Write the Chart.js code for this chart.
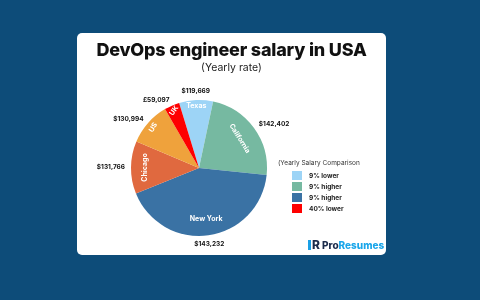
<!DOCTYPE html>
<html>
<head>
<meta charset="utf-8">
<script src="https://cdn.jsdelivr.net/npm/chart.js@4.4.1/dist/chart.umd.min.js"></script>
<style>
  html, body { margin: 0; padding: 0; }
  body { width: 480px; height: 300px; background: #0d4c79; position: relative; overflow: hidden; font-family: Inter, 'Open Sans', sans-serif; }
  #card { position: absolute; left: 77px; top: 33px; width: 309px; height: 222px; background: #fff; border-radius: 5px; }
  #title { position: absolute; left: 0; width: 309px; top: 6px; text-align: center; font-weight: 800; font-size: 18px; color: #111; letter-spacing: -0.2px; }
  #sub { position: absolute; left: 0; width: 309px; top: 28px; text-align: center; font-size: 10.5px; color: #222; }
  #pie { position: absolute; left: 0; top: 0; }
  #legend { position: absolute; left: 201px; top: 126px; font-size: 6.5px; color: #333; }
  #legend .ttl { margin-bottom: 3px; }
  #legend .row { display: flex; align-items: center; height: 11px; margin-left: 14px; font-weight: 700; color: #222; }
  #legend .sw { width: 10px; height: 9px; margin-right: 7px; }
  #logo { position: absolute; left: 231px; top: 206px; font-weight: 800; font-size: 10px; display: flex; align-items: center; }
  #logo .ic { color: #1b2b4b; font-size: 12px; margin-right: 2px; border-left: 3px solid #1aa0e6; padding-left: 1px; line-height: 10px; }
  #logo .p { color: #1b2b4b; }
  #logo .r { color: #1aa6ea; }
</style>
</head>
<body>
<div id="card">
  <canvas id="pie" width="309" height="222"></canvas>
  <div id="title">DevOps engineer salary in USA</div>
  <div id="sub">(Yearly rate)</div>
  <div id="legend"></div>
  <div id="logo"><span class="ic">R</span><span class="p">Pro</span><span class="r">Resumes</span></div>
</div>
<script>
// slices, clockwise from Texas
const cities = ['Texas', 'California', 'New York', 'Chicago', 'US', 'UK'];
const salaries = ['$119,669', '$142,402', '$143,232', '$131,766', '$130,994', '£59,097'];
const shares = [29, 84, 152, 45, 37, 13];
const colors = ['#9dd4f6', '#76b9a1', '#3a72a4', '#e0693f', '#efa23c', '#fe0000'];

// legend
const legendText = ['9% lower', '9% higher', '9% higher', '40% lower'];
const legendColors = ['#9dd4f6', '#76b9a1', '#3a72a4', '#fe0000'];

// where the white name sits inside each slice (fraction of radius) and its tilt
const innerPos = [0.92, 0.74, 0.75, 0.79, 0.9, 0.92];
const innerRot = [0, 58, 0, -90, -58, -55];

const lg = document.getElementById('legend');
lg.innerHTML = '<div class="ttl">(Yearly Salary Comparison</div>' +
    legendText.map((t, i) => `<div class="row"><span class="sw" style="background:${legendColors[i]}"></span>${t}</div>`).join('');

const sliceLabels = {
    id: 'sliceLabels',
    afterDatasetsDraw(chart) {
        const ctx = chart.ctx;
        const meta = chart.getDatasetMeta(0);
        meta.data.forEach((arc, i) => {
            const p = arc.getProps(['x', 'y', 'startAngle', 'endAngle', 'outerRadius'], true);
            const mid = (p.startAngle + p.endAngle) / 2;
            const cx = Math.cos(mid), cy = Math.sin(mid);

            // name inside
            const r = p.outerRadius * innerPos[i];
            ctx.save();
            ctx.translate(p.x + cx * r, p.y + cy * r);
            ctx.rotate(innerRot[i] * Math.PI / 180);
            ctx.font = '700 7px Inter';
            ctx.fillStyle = '#fff';
            ctx.textAlign = 'center';
            ctx.textBaseline = 'middle';
            ctx.fillText(cities[i], 0, 0);
            ctx.restore();

            // salary outside
            const ro = p.outerRadius + 6;
            const ax = p.x + cx * ro, ay = p.y + cy * ro;
            ctx.save();
            ctx.font = '700 6.5px Inter';
            ctx.fillStyle = '#111';
            if (Math.abs(cx) < 0.2) {
                ctx.textAlign = 'center';
                ctx.textBaseline = cy < 0 ? 'bottom' : 'top';
            } else {
                ctx.textAlign = cx > 0 ? 'left' : 'right';
                ctx.textBaseline = 'middle';
            }
            ctx.fillText(salaries[i], ax, ay);
            ctx.restore();
        });
    }
};

new Chart(document.getElementById('pie'), {
    type: 'pie',
    data: {
        labels: cities,
        datasets: [{ data: shares, backgroundColor: colors, borderWidth: 0 }]
    },
    options: {
        responsive: false,
        animation: false,
        rotation: -17,
        layout: { padding: { left: 54, right: 119, top: 67, bottom: 19 } },
        plugins: { legend: { display: false }, tooltip: { enabled: false } }
    },
    plugins: [sliceLabels]
});
</script>
</body>
</html>
